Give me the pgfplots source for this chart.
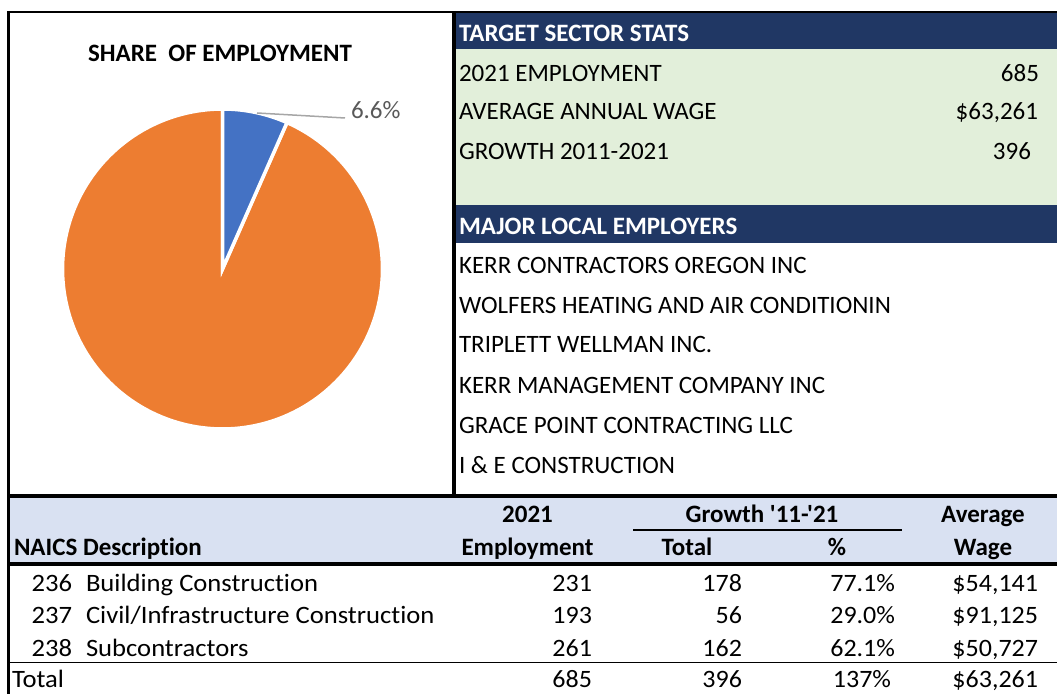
\documentclass[border=0pt]{standalone}
\usepackage{pgfplots}
\pgfplotsset{compat=1.18}
\usepackage{fontspec}
\setmainfont{Carlito}[Ligatures={TeXOff,NoCommon}]
\newfontfamily\descfont{Carlito}[Ligatures={TeXOff,NoCommon}, FakeStretch=1.065]
\newfontfamily\numfont{Carlito}[Ligatures={TeXOff,NoCommon}, FakeStretch=1.04]
\definecolor{pieblue}{HTML}{4472C4}
\definecolor{pieorange}{HTML}{ED7D31}
\definecolor{navy}{HTML}{203764}
\definecolor{lightgreen}{HTML}{E2EFDA}
\definecolor{lavender}{HTML}{D9E1F2}
\definecolor{labelgray}{HTML}{595959}
\definecolor{leadergray}{HTML}{A6A6A6}
\newcommand\fs{\fontsize{25bp}{30bp}\selectfont}
\pgfplotstableread{
sector share
target 6.6
other 93.4
}\piedata
\pgfplotstablegetelem{0}{share}\of\piedata
\let\shareA\pgfplotsretval
\pgfmathsetmacro{\angA}{90-\shareA*3.6}
\begin{document}
\begin{tikzpicture}[x=1bp,y=1bp, every node/.style={inner sep=0pt, outer sep=0pt, font=\fs}]
\path[use as bounding box] (0,0) rectangle (1057,694);
% background fills
\fill[navy] (456,645) rectangle (1057,681);
\fill[lightgreen] (456,489) rectangle (1057,645);
\fill[navy] (456,451) rectangle (1057,489);
\fill[lavender] (10,132) rectangle (1057,196);
% rules
\draw[line width=2.5bp] (7.2,682) -- (1057,682);
\draw[line width=3bp] (8.7,683) -- (8.7,0);
\draw[line width=3.5bp] (454,683) -- (454,196);
\draw[line width=4bp] (7.2,198) -- (1057,198);
\draw[line width=4bp] (7.2,130) -- (1057,130);
\draw[line width=1.5bp] (7.2,31.5) -- (1057,31.5);
\draw[line width=1.5bp] (633,164) -- (902,164);
% pie
\begin{axis}[at={(222.5,425)}, anchor=origin, x=1bp, y=1bp,
  xmin=-165, xmax=165, ymin=-165, ymax=165, hide axis, clip=false]
\addplot[draw=white, line width=3.5bp, fill=pieorange, domain=-270:\angA, samples=180, variable=\t]
  ({160*cos(\t)},{160*sin(\t)}) -- (0,0) -- cycle;
\addplot[draw=white, line width=3.5bp, fill=pieblue, domain=\angA:90, samples=40, variable=\t]
  ({160*cos(\t)},{160*sin(\t)}) -- (0,0) -- cycle;
\draw[leadergray, line width=1.5bp] (34.5,156) -- (122.5,151);
\node[anchor=base west, text=labelgray] at (128.5,150) {6.6\%};
\end{axis}
% left title
\node[anchor=base, font=\fs\bfseries] at (220,632) {SHARE\ \ OF EMPLOYMENT};
% right panel
\node[anchor=base west, font=\fs\bfseries, text=white] at (459,652) {TARGET SECTOR STATS};
\node[anchor=base west] at (459,612) {2021 EMPLOYMENT};
\node[anchor=base east] at (1039,612) {685};
\node[anchor=base west] at (459,574) {AVERAGE ANNUAL WAGE};
\node[anchor=base east] at (1038,574) {\$63,261};
\node[anchor=base west] at (459,534) {GROWTH 2011-2021};
\node[anchor=base east] at (1031,534) {396};
\node[anchor=base west, font=\fs\bfseries, text=white] at (459,459) {MAJOR LOCAL EMPLOYERS};
\node[anchor=base west] at (459,420) {KERR CONTRACTORS OREGON INC};
\node[anchor=base west] at (459,380) {WOLFERS HEATING AND AIR CONDITIONIN};
\node[anchor=base west] at (459,341) {TRIPLETT WELLMAN INC.};
\node[anchor=base west] at (459,300.5) {KERR MANAGEMENT COMPANY INC};
\node[anchor=base west] at (459,260) {GRACE POINT CONTRACTING LLC};
\node[anchor=base west] at (459,220) {I \& E CONSTRUCTION};
% lower table header
\begin{scope}[every node/.append style={font=\fs\bfseries}]
\node[anchor=base west] at (14,138) {NAICS Description};
\node[anchor=base] at (527.5,171) {2021};
\node[anchor=base] at (527.5,138) {Employment};
\node[anchor=base] at (762,171) {Growth '11-'21};
\node[anchor=base] at (687,138) {Total};
\node[anchor=base] at (837,138) {\%};
\node[anchor=base] at (983,171) {Average};
\node[anchor=base] at (983,138) {Wage};
\end{scope}
% lower table rows
\begin{scope}[every node/.append style={font=\fs\descfont}]
\node[anchor=base east] at (72,102) {236};
\node[anchor=base west] at (86,102) {Building Construction};
\node[anchor=base east] at (72,70) {237};
\node[anchor=base west] at (86,70) {Civil/Infrastructure Construction};
\node[anchor=base east] at (72,37) {238};
\node[anchor=base west] at (86,37) {Subcontractors};
\node[anchor=base west] at (12,6) {Total};
\end{scope}
\begin{scope}[every node/.append style={font=\fs\numfont}]
\node[anchor=base east] at (592,102) {231};
\node[anchor=base east] at (592,70) {193};
\node[anchor=base east] at (592,37) {261};
\node[anchor=base east] at (592,6) {685};
\node[anchor=base east] at (742,102) {178};
\node[anchor=base east] at (742,70) {56};
\node[anchor=base east] at (742,37) {162};
\node[anchor=base east] at (742,6) {396};
\node[anchor=base east] at (895,102) {77.1\%};
\node[anchor=base east] at (895,70) {29.0\%};
\node[anchor=base east] at (895,37) {62.1\%};
\node[anchor=base east] at (891,6) {137\%};
\node[anchor=base east] at (1038,102) {\$54,141};
\node[anchor=base east] at (1038,70) {\$91,125};
\node[anchor=base east] at (1038,37) {\$50,727};
\node[anchor=base east] at (1038,6) {\$63,261};
\end{scope}
\end{tikzpicture}
\end{document}
